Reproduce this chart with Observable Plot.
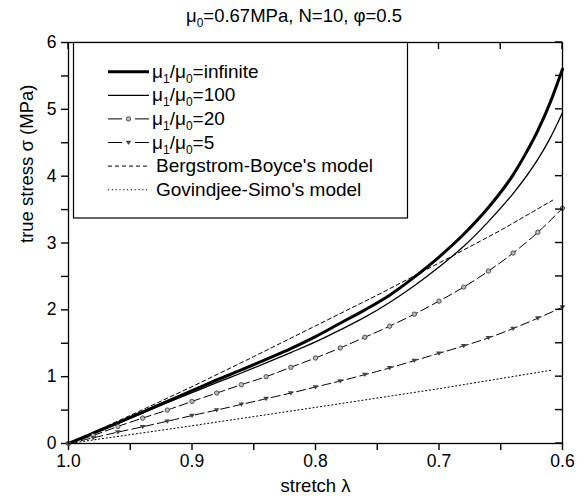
<!DOCTYPE html>
<html>
<head>
<meta charset="utf-8">
<script src="https://cdn.jsdelivr.net/npm/d3@7"></script>
<script src="https://cdn.jsdelivr.net/npm/@observablehq/plot@0.6"></script>
<style>
  html, body { margin: 0; padding: 0; background: #fff; }
  svg { display: block; }
</style>
</head>
<body>
<div id="chart"></div>
<script>
// ---------------- data ----------------
const lamSolid = [1.00,0.98,0.96,0.94,0.92,0.90,0.88,0.86,0.84,0.82,0.80,0.78,0.76,0.74,0.72,0.70,0.68,0.66,0.64,0.63,0.62,0.61,0.60];
const stressInf = [0,0.155,0.31,0.47,0.63,0.79,0.95,1.10,1.26,1.42,1.60,1.80,2.00,2.22,2.49,2.79,3.13,3.53,4.02,4.33,4.68,5.10,5.60];
const stress100 = [0,0.15,0.30,0.455,0.61,0.76,0.91,1.055,1.205,1.36,1.52,1.70,1.89,2.11,2.36,2.64,2.95,3.32,3.74,3.98,4.25,4.57,4.95];

const lamMarked = [1.00,0.98,0.96,0.94,0.92,0.90,0.88,0.86,0.84,0.82,0.80,0.78,0.76,0.74,0.72,0.70,0.68,0.66,0.64,0.62,0.60];
const stress20 = [0,0.12,0.255,0.38,0.50,0.63,0.755,0.88,1.00,1.14,1.28,1.43,1.59,1.755,1.935,2.13,2.34,2.58,2.85,3.16,3.52];
const stress5  = [0,0.085,0.17,0.25,0.333,0.418,0.50,0.585,0.67,0.755,0.845,0.935,1.03,1.13,1.24,1.35,1.46,1.58,1.72,1.875,2.04];

const lamBB = [1.00,0.95,0.90,0.85,0.80,0.75,0.70,0.65,0.608];
const stressBB = [0,0.42,0.85,1.30,1.76,2.22,2.70,3.19,3.64];

const lamGS = [1.00,0.90,0.80,0.70,0.608];
const stressGS = [0,0.265,0.54,0.82,1.10];

const xTickValues = [1.0,0.95,0.9,0.85,0.8,0.75,0.7,0.65,0.6];
const xTickLabels = ["1.0","","0.9","","0.8","","0.7","","0.6"];
const yTickValues = [0,0.5,1,1.5,2,2.5,3,3.5,4,4.5,5,5.5,6];
const yTickLabels = ["0","","1","","2","","3","","4","","5","","6"];

const xLabel = "stretch λ";
const yLabel = "true stress σ (MPa)";
const titleMain = "μ", titleSub = "0", titleRest = "=0.67MPa, N=10, φ=0.5";

const legendPrefix = ["μ1/μ0", "μ1/μ0", "μ1/μ0", "μ1/μ0", "", ""];
const legendSuffix = ["=infinite", "=100", "=20", "=5", "Bergstrom-Boyce's model", "Govindjee-Simo's model"];

// ---------------- build ----------------
const rows = (lam, s) => lam.map((l, i) => ({lam: l, s: s[i]}));
const dInf = rows(lamSolid, stressInf);
const d100 = rows(lamSolid, stress100);
const d20 = rows(lamMarked, stress20);
const d5 = rows(lamMarked, stress5);
const dBB = rows(lamBB, stressBB);
const dGS = rows(lamGS, stressGS);

const FF = "'Liberation Sans', Arial, Helvetica, sans-serif";
const W = 588, H = 502, ML = 68, MR = 26, MT = 42, MB = 59;
const TL = 7;

const downTri = {
  draw(ctx, size) {
    const h = Math.sqrt(size / Math.PI) * 1.25;
    ctx.moveTo(-h, -h * 0.65);
    ctx.lineTo(h, -h * 0.65);
    ctx.lineTo(0, h * 0.85);
    ctx.closePath();
  }
};

const xFmt = d => { const i = xTickValues.indexOf(d); return i >= 0 ? xTickLabels[i] : ""; };
const yFmt = d => { const i = yTickValues.indexOf(d); return i >= 0 ? yTickLabels[i] : ""; };

const chart = Plot.plot({
  width: W,
  height: H,
  marginLeft: ML,
  marginRight: MR,
  marginTop: MT,
  marginBottom: MB,
  style: {fontFamily: FF, fontSize: "17.5px", color: "black", background: "white"},
  x: {domain: [1.0, 0.6]},
  y: {domain: [0, 6]},
  marks: [
    Plot.axisX({anchor: "bottom", ticks: xTickValues, tickSize: TL, tickPadding: 4, strokeWidth: 1.4, tickFormat: xFmt, label: null}),
    Plot.axisY({anchor: "left", ticks: yTickValues, tickSize: TL, tickPadding: 5, strokeWidth: 1.4, tickFormat: yFmt, label: null}),
    Plot.line(dGS, {x: "lam", y: "s", stroke: "black", strokeWidth: 1, strokeDasharray: "1.2,2.6"}),
    Plot.line(dBB, {x: "lam", y: "s", stroke: "black", strokeWidth: 1, strokeDasharray: "4,3"}),
    Plot.line(d5, {x: "lam", y: "s", stroke: "black", strokeWidth: 1, strokeDasharray: "9,4", curve: "monotone-x"}),
    Plot.line(d20, {x: "lam", y: "s", stroke: "black", strokeWidth: 1, strokeDasharray: "9,4", curve: "monotone-x"}),
    Plot.line(d100, {x: "lam", y: "s", stroke: "black", strokeWidth: 1.3, curve: "monotone-x"}),
    Plot.line(dInf, {x: "lam", y: "s", stroke: "black", strokeWidth: 3, curve: "monotone-x"}),
    Plot.dot(d20, {x: "lam", y: "s", r: 2.2, fill: "#bbb", stroke: "#333", strokeWidth: 0.8}),
    Plot.dot(d5, {x: "lam", y: "s", r: 2.3, symbol: downTri, fill: "#444", stroke: "none"}),
    Plot.frame({stroke: "black", strokeWidth: 1.3}),
    Plot.text([xLabel], {frameAnchor: "bottom", dy: 48, fontSize: 18.5}),
    Plot.text([yLabel], {frameAnchor: "left", dx: -41, rotate: -90, fontSize: 18.5})
  ]
});

document.getElementById("chart").appendChild(chart);

// ---------------- inward ticks on top and right, from the plot's own scales ----------------
const svg = d3.select(chart);
const sx = chart.scale("x"), sy = chart.scale("y");
const fTop = MT, fRight = W - MR;
const tg = svg.append("g").attr("stroke", "black").attr("stroke-width", 1.4);
xTickValues.forEach(v => {
  const px = sx.apply(v);
  tg.append("line").attr("x1", px).attr("x2", px).attr("y1", fTop).attr("y2", fTop + TL);
});
yTickValues.forEach(v => {
  const py = sy.apply(v);
  tg.append("line").attr("x1", fRight - TL).attr("x2", fRight).attr("y1", py).attr("y2", py);
});

// ---------------- title and legend (decoration) ----------------
const title = svg.append("text")
  .attr("x", 294).attr("y", 22)
  .attr("text-anchor", "middle")
  .attr("fill", "black")
  .style("font-family", FF).style("font-size", "18.5px");
title.append("tspan").text(titleMain);
title.append("tspan").attr("dy", 5).style("font-size", "12px").text(titleSub);
title.append("tspan").attr("dy", -5).text(titleRest);

const lg = svg.append("g");
lg.append("rect")
  .attr("x", 73.5).attr("y", 42.5).attr("width", 334).attr("height", 175.5)
  .attr("fill", "white").attr("stroke", "black").attr("stroke-width", 1.2);

const rowY = [71.7, 95.3, 118.9, 142.5, 166.1, 189.7];
const x0 = 108, x1 = 149, tx = 152;

legendSuffix.forEach((suf, i) => {
  const y = rowY[i];
  if (i === 0 || i === 1) {
    lg.append("line").attr("x1", x0).attr("x2", x1).attr("y1", y).attr("y2", y)
      .attr("stroke", "black").attr("stroke-width", i === 0 ? 3 : 1.3);
  } else if (i === 2 || i === 3) {
    lg.append("line").attr("x1", x0).attr("x2", x0 + 14).attr("y1", y).attr("y2", y)
      .attr("stroke", "black").attr("stroke-width", 1);
    lg.append("line").attr("x1", x1 - 14).attr("x2", x1).attr("y1", y).attr("y2", y)
      .attr("stroke", "black").attr("stroke-width", 1);
    const cx = (x0 + x1) / 2;
    if (i === 2) {
      lg.append("circle").attr("cx", cx).attr("cy", y).attr("r", 2.2)
        .attr("fill", "#bbb").attr("stroke", "#333").attr("stroke-width", 0.8);
    } else {
      lg.append("path").attr("transform", `translate(${cx},${y})`)
        .attr("d", d3.symbol().type(downTri).size(2.3 * 2.3 * Math.PI)())
        .attr("fill", "#444");
    }
  } else {
    lg.append("line").attr("x1", x0).attr("x2", x1).attr("y1", y).attr("y2", y)
      .attr("stroke", "black").attr("stroke-width", 1)
      .attr("stroke-dasharray", i === 4 ? "4,3" : "1.2,2.6");
  }
  const t = lg.append("text").attr("x", i >= 4 ? tx + 4 : tx).attr("y", y + 6)
    .attr("text-anchor", "start")
    .attr("fill", "black").style("font-family", FF).style("font-size", "19px");
  if (legendPrefix[i]) {
    t.append("tspan").text("μ");
    t.append("tspan").attr("dy", 5).style("font-size", "12px").text("1");
    t.append("tspan").attr("dy", -5).text("/μ");
    t.append("tspan").attr("dy", 5).style("font-size", "12px").text("0");
    t.append("tspan").attr("dy", -5).text(suf);
  } else {
    t.text(suf);
  }
});
</script>
</body>
</html>
